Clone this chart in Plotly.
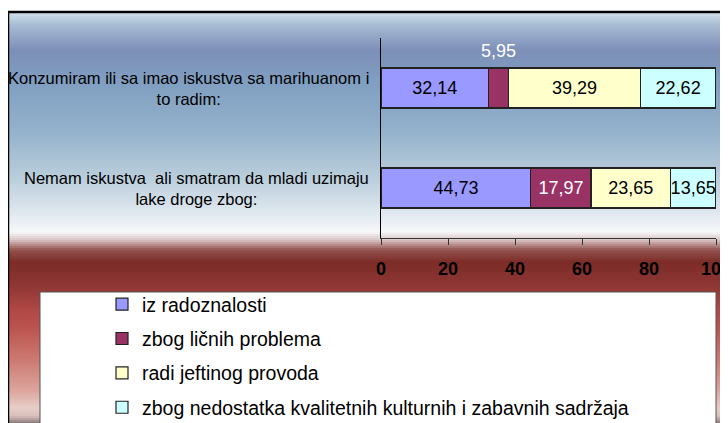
import plotly.graph_objects as go

categories = [
    "Konzumiram ili sa imao iskustva sa marihuanom i<br>to radim:",
    "Nemam iskustva  ali smatram da mladi uzimaju<br>lake droge zbog:",
]
series_names = [
    "iz radoznalosti",
    "zbog ličnih problema",
    "radi jeftinog provoda",
    "zbog nedostatka kvalitetnih kulturnih i zabavnih sadržaja",
]
values = [
    [32.14, 44.73],
    [5.95, 17.97],
    [39.29, 23.65],
    [22.62, 13.65],
]
x_ticks = [0, 20, 40, 60, 80, 100]

BAR_COLORS = ["#9999FF", "#993366", "#FFFFCC", "#CCFFFF"]
TEXT_COLORS = ["#000000", "#FFFFFF", "#000000", "#000000"]
FONT = "Liberation Sans, Arial, sans-serif"

# page body adds an 8px offset, so layout = reference pixels - 8
OFF = 8
W, H = 728, 423
L, R, T, B = 381, 716, 38, 238  # plot area in reference pixels


def px(x):
    return (x - L) / (R - L)


def py(y):
    return (B - y) / (B - T)


def fmt(v):
    return f"{v:.2f}".replace(".", ",")


# background gradient stops (pixel y, colour)
STOPS = [
    (12, (211, 226, 236)), (25, (167, 188, 211)), (50, (125, 143, 184)),
    (80, (127, 158, 192)), (130, (147, 177, 203)), (180, (188, 207, 220)),
    (215, (226, 233, 240)), (232, (247, 248, 250)), (240, (217, 195, 195)),
    (250, (147, 82, 78)), (262, (124, 44, 40)), (285, (142, 54, 51)),
    (310, (176, 72, 70)), (330, (188, 86, 80)), (360, (204, 122, 114)),
    (390, (219, 164, 156)), (408, (232, 206, 200)), (416, (216, 192, 188)),
    (423, (138, 124, 122)),
]


def grad(y):
    for (y0, c0), (y1, c1) in zip(STOPS, STOPS[1:]):
        if y0 <= y <= y1:
            t = (y - y0) / (y1 - y0)
            return "rgb(%d,%d,%d)" % tuple(round(a + (b - a) * t) for a, b in zip(c0, c1))
    return "rgb(%d,%d,%d)" % STOPS[-1][1]


shapes = []
for y in range(12, H, 2):
    shapes.append(dict(type="rect", xref="paper", yref="paper", layer="below",
                       x0=px(8), x1=px(W + 10), y0=py(y), y1=py(y + 2.5),
                       line={"width": 0}, fillcolor=grad(y + 1)))
# legend panel
shapes.append(dict(type="rect", xref="paper", yref="paper", layer="below",
                   x0=px(40), x1=px(716), y0=py(292), y1=py(H + 10),
                   line={"width": 1, "color": "#555555"}, fillcolor="#FFFFFF"))
# outer frame
shapes.append(dict(type="rect", xref="paper", yref="paper", layer="above",
                   x0=px(8), x1=px(W + 10), y0=py(12), y1=py(H + 10),
                   line={"width": 2.5, "color": "#000000"}, fillcolor="rgba(0,0,0,0)"))

fig = go.Figure()
for i, name in enumerate(series_names):
    texts = [fmt(v) for v in values[i]]
    if i == 1:
        texts[0] = ""  # too narrow, label drawn above the bar
    fig.add_trace(go.Bar(
        y=categories, x=values[i], name=name, orientation="h",
        legendgroup=f"g{i}",
        marker={"color": BAR_COLORS[i], "line": {"color": "#222222", "width": 1.2}},
        text=texts, textposition="inside", insidetextanchor="middle",
        textangle=0, constraintext="none",
        textfont={"family": FONT, "size": 18, "color": TEXT_COLORS[i]},
    ))

annotations = [
    dict(x=values[0][0] + values[1][0] / 2, y=categories[0], xref="x", yref="y",
         text=fmt(values[1][0]), showarrow=False, yshift=37,
         font={"family": FONT, "size": 18, "color": "#FFFFFF"}),
]
for cat in categories:
    annotations.append(dict(x=0, y=cat, xref="paper", yref="y", xanchor="right",
                            xshift=-10, align="center", text=cat, showarrow=False,
                            font={"family": FONT, "size": 16.5, "color": "#000000"}))

fig.update_layout(
    width=W, height=H,
    margin={"l": L - OFF, "r": W - R + OFF, "t": T - OFF, "b": H - B + OFF,
            "autoexpand": False},
    paper_bgcolor="#FFFFFF", plot_bgcolor="rgba(0,0,0,0)",
    barmode="stack", bargap=0.6,
    font={"family": FONT, "color": "#000000"},
    shapes=shapes, annotations=annotations,
    legend={"x": px(102), "y": py(285), "xanchor": "left", "yanchor": "top",
            "bgcolor": "rgba(0,0,0,0)", "traceorder": "grouped",
            "tracegroupgap": 6, "font": {"family": FONT, "size": 19.5}},
)
fig.update_xaxes(range=[0, 100], tickvals=x_ticks, showgrid=False, zeroline=False,
                 showline=True, linecolor="#333333", linewidth=1,
                 ticks="outside", ticklen=6, tickcolor="#333333",
                 ticklabelstandoff=8,
                 tickfont={"family": FONT, "size": 18, "color": "#000000", "weight": "bold"})
fig.update_yaxes(categoryorder="array", categoryarray=categories, autorange="reversed",
                 showticklabels=False, showgrid=False, zeroline=False,
                 showline=True, linecolor="#000000", linewidth=1, ticks="")

fig.write_html("out.html")
